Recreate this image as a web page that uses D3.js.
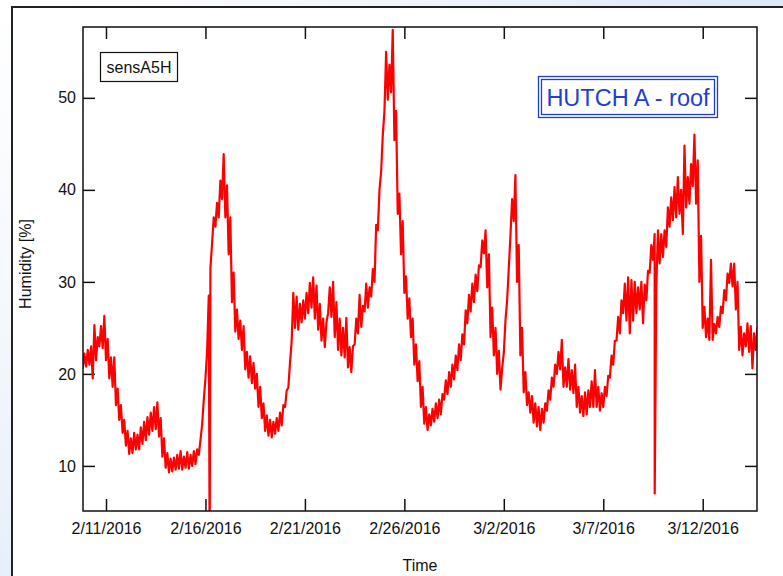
<!DOCTYPE html>
<html>
<head>
<meta charset="utf-8">
<script src="https://cdn.jsdelivr.net/npm/d3@7"></script>
<style>
  html, body { margin: 0; padding: 0; }
  body { width: 783px; height: 576px; overflow: hidden; }
  text { font-family: "Liberation Sans", Arial, Helvetica, sans-serif; }
</style>
</head>
<body>
<div id="chart"></div>
<script>
// Data
// one pair of readings (low / high of the noisy trace) every 4 hours
var startTime = "2016-02-09T20:00";
var stepHours = 4;

var rhLow = [
  20.6, 20.8, 21.0, 19.5, 21.5, 23.0, 22.8, 21.5, 19.5, 18.6,
  16.6, 15.0, 13.6, 12.2, 11.3, 11.4, 11.8, 11.8, 12.4, 12.8,
  13.4, 13.8, 14.0, 13.2, 11.0, 9.8, 9.3, 9.4, 9.6, 9.7,
  9.6, 9.8, 9.7, 10.0, 10.2, 11.2, 14.5, 19.5, 28.5, 34.2,
  36.0, 37.0, 39.0, 37.0, 33.0, 27.8, 24.6, 23.8, 22.6, 20.5,
  19.6, 19.0, 18.4, 16.4, 15.2, 13.8, 13.3, 13.1, 13.5, 13.8,
  14.4, 16.4, 18.5, 23.5, 25.0, 24.8, 25.6, 26.0, 26.6, 27.2,
  26.0, 24.8, 23.6, 22.9, 26.6, 26.2, 24.0, 22.6, 22.0, 21.8,
  20.7, 20.2, 23.2, 24.4, 25.1, 26.8, 27.2, 28.4, 30.0, 35.6,
  42.0, 48.6, 49.8, 50.6, 45.4, 37.4, 33.0, 28.8, 26.0, 24.0,
  21.0, 19.2, 16.4, 14.6, 13.9, 14.4, 14.8, 15.2, 15.6, 17.2,
  17.8, 18.6, 19.4, 20.4, 21.5, 23.2, 25.5, 26.8, 27.8, 29.0,
  31.6, 33.1, 29.4, 24.0, 22.0, 20.0, 18.3, 22.3, 28.0, 35.0,
  36.6, 30.0, 22.0, 18.0, 16.6, 15.8, 14.7, 14.3, 13.9, 14.7,
  16.0, 17.2, 18.6, 20.0, 20.5, 18.6, 18.6, 18.3, 17.9, 16.4,
  15.8, 15.4, 15.6, 16.4, 16.4, 16.4, 16.0, 16.4, 17.6, 19.6,
  21.0, 23.6, 24.4, 26.6, 25.8, 24.4, 25.8, 26.6, 27.0, 25.5,
  28.0, 31.0, 32.4, 29.5, 32.0, 32.7, 33.8, 36.0, 36.7, 37.0,
  37.4, 35.2, 38.1, 38.5, 40.4, 38.5, 30.0, 25.0, 24.0, 23.7,
  23.7, 24.4, 25.1, 26.6, 28.0, 29.9, 29.5, 27.0, 22.6, 22.0,
  23.0, 22.4, 20.6, 22.6
];

var rhHigh = [
  22.2, 22.6, 23.0, 25.3, 24.0, 25.2, 26.3, 23.8, 21.8, 21.8,
  18.4, 16.6, 15.0, 13.8, 13.0, 13.6, 13.4, 14.2, 14.8, 15.3,
  15.8, 16.4, 16.9, 15.2, 13.0, 11.4, 10.8, 10.9, 11.2, 11.6,
  11.0, 11.5, 11.2, 11.6, 11.8, 12.8, 17.2, 22.5, 31.5, 37.0,
  38.6, 41.0, 43.9, 40.5, 37.0, 31.0, 27.0, 25.8, 25.2, 22.4,
  21.9, 21.2, 20.0, 18.6, 16.8, 15.5, 15.0, 14.8, 15.2, 15.8,
  16.6, 18.2, 21.2, 28.8, 28.4, 27.6, 28.0, 28.8, 29.9, 30.5,
  29.6, 27.6, 26.0, 25.6, 29.4, 30.0, 27.8, 26.0, 25.0, 26.1,
  22.9, 23.0, 26.0, 28.6, 27.4, 29.8, 29.4, 31.4, 36.2, 40.0,
  46.0, 55.0, 53.6, 57.4, 48.6, 39.6, 36.6, 30.6, 28.2, 26.0,
  23.2, 21.4, 18.6, 16.4, 15.6, 16.2, 16.8, 17.2, 17.8, 19.3,
  20.2, 21.0, 22.0, 23.2, 24.3, 26.9, 28.6, 29.8, 30.8, 31.8,
  34.5, 35.6, 33.0, 27.2, 25.0, 22.5, 20.6, 25.8, 31.5, 39.0,
  41.6, 34.0, 25.0, 20.2, 18.0, 17.6, 16.8, 16.4, 16.2, 16.8,
  18.2, 19.6, 21.0, 22.4, 23.7, 20.7, 21.6, 20.4, 21.0, 18.6,
  17.6, 18.0, 18.2, 19.2, 20.4, 18.6, 17.9, 18.6, 19.8, 22.0,
  23.6, 26.2, 28.0, 29.8, 30.5, 30.2, 30.0, 29.4, 30.0, 29.7,
  31.2, 34.0, 35.2, 35.6, 35.2, 35.6, 38.1, 39.2, 40.3, 41.4,
  40.0, 44.8, 41.4, 42.8, 46.0, 43.2, 35.0, 27.3, 26.0, 32.4,
  25.4, 26.2, 27.3, 29.1, 30.9, 32.0, 32.0, 30.0, 25.1, 24.4,
  25.5, 25.2, 24.4, 25.1
];

// single bad samples that drop straight down
var glitchTimes = ["2016-02-16T05:05", "2016-03-09T14:05"];
var glitchRH = [0, 7.0];

var tickDates = ["2016-02-11", "2016-02-16", "2016-02-21", "2016-02-26",
                 "2016-03-02", "2016-03-07", "2016-03-12"];
var yTicks = [10, 20, 30, 40, 50];

// Step 1: Set up the chart
var svgWidth = 783;
var svgHeight = 576;
var plot = { left: 83, top: 27, right: 757, bottom: 511 };

var parseTime = d3.timeParse("%Y-%m-%dT%H:%M");
var parseDay = d3.timeParse("%Y-%m-%d");

var svg = d3.select("#chart")
    .append("svg")
    .attr("width", svgWidth)
    .attr("height", svgHeight);

// background (light blue window behind the white panel)
var defs = svg.append("defs");
var grad = defs.append("radialGradient")
    .attr("id", "bg")
    .attr("gradientUnits", "userSpaceOnUse")
    .attr("cx", 0).attr("cy", 0).attr("r", 780);
grad.append("stop").attr("offset", "0%").attr("stop-color", "#ffffff");
grad.append("stop").attr("offset", "45%").attr("stop-color", "#f3f7fc");
grad.append("stop").attr("offset", "100%").attr("stop-color", "#dbe8f6");

defs.append("clipPath").attr("id", "clip")
  .append("rect")
    .attr("x", plot.left)
    .attr("y", plot.top)
    .attr("width", plot.right - plot.left)
    .attr("height", plot.bottom - plot.top);

svg.append("rect")
    .attr("width", svgWidth)
    .attr("height", svgHeight)
    .attr("fill", "url(#bg)");

svg.append("rect")
    .attr("x", 12)
    .attr("y", 7)
    .attr("width", 820)
    .attr("height", 620)
    .attr("fill", "#ffffff")
    .attr("stroke", "#222")
    .attr("stroke-width", 2);

// Step 2: Build the series
var t0 = parseTime(startTime);
var points = [];
rhLow.forEach(function(v, i) {
    var t = d3.timeHour.offset(t0, i * stepHours);
    points.push({ t: t, v: v });
    points.push({ t: d3.timeHour.offset(t, stepHours / 2), v: rhHigh[i] });
});
glitchTimes.forEach(function(s, i) {
    points.push({ t: parseTime(s), v: glitchRH[i] });
});
points.sort(function(a, b) { return a.t - b.t; });

// Step 3: Scales
var xScale = d3.scaleTime()
    .domain([parseTime("2016-02-09T20:15"), parseTime("2016-03-14T17:30")])
    .range([plot.left, plot.right]);

var yScale = d3.scaleLinear()
    .domain([5.1, 57.7])
    .range([plot.bottom, plot.top]);

// Step 4: Axes (ticks point inward, mirrored on top and right)
var xTickVals = tickDates.map(parseDay);
var fmt = d3.timeFormat("%-m/%-d/%Y");

var bottomAxis = d3.axisBottom(xScale)
    .tickValues(xTickVals).tickFormat(fmt)
    .tickSizeInner(-12).tickSizeOuter(0).tickPadding(12);
var topAxis = d3.axisTop(xScale)
    .tickValues(xTickVals).tickFormat("")
    .tickSizeInner(-12).tickSizeOuter(0);
var leftAxis = d3.axisLeft(yScale)
    .tickValues(yTicks)
    .tickSizeInner(-12).tickSizeOuter(0).tickPadding(7);
var rightAxis = d3.axisRight(yScale)
    .tickValues(yTicks).tickFormat("")
    .tickSizeInner(-12).tickSizeOuter(0);

var axes = [
    svg.append("g").attr("transform", `translate(0, ${plot.bottom})`).call(bottomAxis),
    svg.append("g").attr("transform", `translate(0, ${plot.top})`).call(topAxis),
    svg.append("g").attr("transform", `translate(${plot.left}, 0)`).call(leftAxis),
    svg.append("g").attr("transform", `translate(${plot.right}, 0)`).call(rightAxis)
];
axes.forEach(function(g) {
    g.select(".domain").remove();
    g.selectAll("line").attr("stroke", "#111").attr("stroke-width", 1.5);
    g.selectAll("text")
        .attr("fill", "#111")
        .style("font-size", "16px")
        .style("font-family", '"Liberation Sans", Arial, sans-serif');
});

// Step 5: The humidity trace
var line = d3.line()
    .x(d => xScale(d.t))
    .y(d => yScale(d.v));

svg.append("path")
    .datum(points)
    .attr("clip-path", "url(#clip)")
    .attr("fill", "none")
    .attr("stroke", "#ff0000")
    .attr("stroke-width", 2.2)
    .attr("stroke-linejoin", "round")
    .attr("d", line);

// plot frame on top
svg.append("rect")
    .attr("x", plot.left)
    .attr("y", plot.top)
    .attr("width", plot.right - plot.left)
    .attr("height", plot.bottom - plot.top)
    .attr("fill", "none")
    .attr("stroke", "#111")
    .attr("stroke-width", 1.5);

// Step 6: Labels
svg.append("text")
    .attr("transform", "translate(31, 264) rotate(-90)")
    .attr("text-anchor", "middle")
    .style("font-size", "16px")
    .attr("fill", "#111")
    .text("Humidity [%]");

svg.append("text")
    .attr("x", (plot.left + plot.right) / 2)
    .attr("y", 571)
    .attr("text-anchor", "middle")
    .style("font-size", "16px")
    .attr("fill", "#111")
    .text("Time");

// sensor tag
svg.append("rect")
    .attr("x", 100.5).attr("y", 52.5)
    .attr("width", 77).attr("height", 29)
    .attr("fill", "#fff")
    .attr("stroke", "#111")
    .attr("stroke-width", 1.2);
svg.append("text")
    .attr("x", 139)
    .attr("y", 73)
    .attr("text-anchor", "middle")
    .style("font-size", "16px")
    .attr("fill", "#111")
    .text("sensA5H");

// title box with double border
var blue = "#1f3fd2";
svg.append("rect")
    .attr("x", 538.5).attr("y", 76.5)
    .attr("width", 179).attr("height", 41)
    .attr("fill", "#fff")
    .attr("stroke", blue)
    .attr("stroke-width", 1.3);
svg.append("rect")
    .attr("x", 541.5).attr("y", 79.5)
    .attr("width", 173).attr("height", 35)
    .attr("fill", "none")
    .attr("stroke", blue)
    .attr("stroke-width", 1.3);
svg.append("text")
    .attr("x", 628)
    .attr("y", 105.5)
    .attr("text-anchor", "middle")
    .style("font-size", "23.5px")
    .attr("fill", blue)
    .text("HUTCH A - roof");
</script>
</body>
</html>
